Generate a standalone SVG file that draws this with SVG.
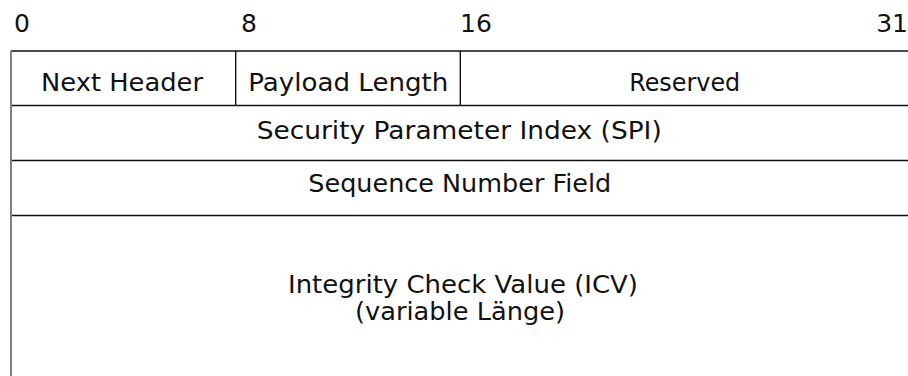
<svg xmlns="http://www.w3.org/2000/svg" width="908" height="376" viewBox="0 0 908 376">
  <style>
    .t { font-family: "DejaVu Sans", "Liberation Sans", sans-serif; font-size: 25px; fill: #111; }
    .c { text-anchor: middle; }
    .ln { stroke: #111; stroke-width: 1.4; fill: none; }
  </style>
  <rect width="908" height="376" fill="#fff"/>
  <g id="bit-labels">
    <text class="t" x="14" y="32">0</text>
    <text class="t" x="241" y="32">8</text>
    <text class="t" x="460" y="32">16</text>
    <text class="t" x="908" y="32" text-anchor="end">31</text>
  </g>
  <g id="connectors">
    <line class="ln" x1="11" y1="51" x2="908" y2="51" stroke="#333"/>
    <line class="ln" x1="11" y1="105.5" x2="908" y2="105.5"/>
    <line class="ln" x1="11" y1="160.5" x2="908" y2="160.5"/>
    <line class="ln" x1="11" y1="215.5" x2="908" y2="215.5"/>
    <line class="ln" x1="235.7" y1="51" x2="235.7" y2="105.5"/>
    <line class="ln" x1="460.3" y1="51" x2="460.3" y2="105.5"/>
    <line x1="11" y1="51" x2="11" y2="376" stroke="#808080" stroke-width="2"/>
  </g>
  <g id="next-header">
    <text class="t c" x="122" y="90.5" textLength="162" lengthAdjust="spacingAndGlyphs">Next Header</text>
  </g>
  <g id="payload-length">
    <text class="t c" x="348.3" y="90.5" textLength="200" lengthAdjust="spacingAndGlyphs">Payload Length</text>
  </g>
  <g id="reserved">
    <text class="t c" x="684.7" y="90.5" textLength="111" lengthAdjust="spacingAndGlyphs">Reserved</text>
  </g>
  <g id="spi">
    <text class="t c" x="459.2" y="138.5" textLength="405" lengthAdjust="spacingAndGlyphs">Security Parameter Index (SPI)</text>
  </g>
  <g id="sequence-number">
    <text class="t c" x="459.8" y="192" textLength="303" lengthAdjust="spacingAndGlyphs">Sequence Number Field</text>
  </g>
  <g id="icv">
    <text class="t c" x="463" y="293.3" textLength="350" lengthAdjust="spacingAndGlyphs">Integrity Check Value (ICV)</text>
    <text class="t c" x="460" y="320" textLength="210" lengthAdjust="spacingAndGlyphs">(variable Länge)</text>
  </g>
</svg>
